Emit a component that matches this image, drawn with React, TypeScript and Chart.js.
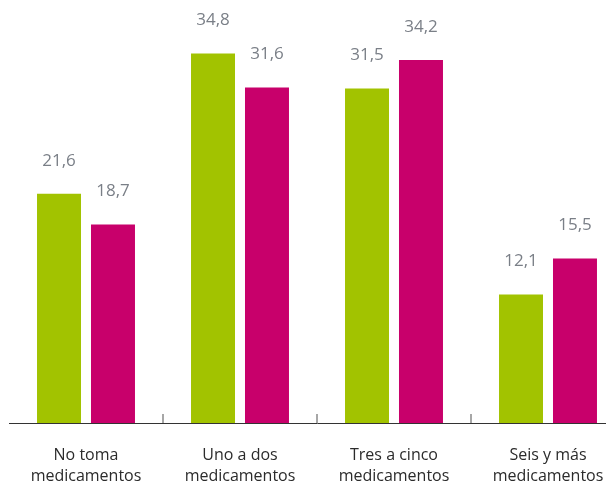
import React, { useEffect, useRef } from "react";
import { Chart, registerables } from "chart.js";

Chart.register(...registerables);

const categories: string[][] = [
  ["No toma", "medicamentos"],
  ["Uno a dos", "medicamentos"],
  ["Tres a cinco", "medicamentos"],
  ["Seis y más", "medicamentos"],
];
const seriesGreen: number[] = [21.6, 34.8, 31.5, 12.1];
const seriesMagenta: number[] = [18.7, 31.6, 34.2, 15.5];

const FONT = "'Open Sans', 'Noto Sans', sans-serif";

const valueLabels = {
  id: "valueLabels",
  afterDatasetsDraw(chart: any) {
    const ctx = chart.ctx;
    ctx.save();
    ctx.font = `17px ${FONT}`;
    ctx.fillStyle = "#7a7f87";
    ctx.textAlign = "center";
    ctx.textBaseline = "middle";
    chart.data.datasets.forEach((ds: any, di: number) => {
      const meta = chart.getDatasetMeta(di);
      meta.data.forEach((bar: any, i: number) => {
        const v = ds.data[i] as number;
        ctx.fillText(v.toFixed(1).replace(".", ","), bar.x, bar.y - 33);
      });
    });
    ctx.restore();
  },
};

const innerTicks = {
  id: "innerTicks",
  afterDraw(chart: any) {
    const ctx = chart.ctx;
    const xs = chart.scales.x;
    const bottom = chart.chartArea.bottom;
    ctx.save();
    ctx.strokeStyle = "#8a8a8a";
    ctx.lineWidth = 1.5;
    for (let i = 1; i < categories.length; i++) {
      const x = Math.round(xs.getPixelForValue(i - 0.5));
      ctx.beginPath();
      ctx.moveTo(x, bottom - 9);
      ctx.lineTo(x, bottom);
      ctx.stroke();
    }
    ctx.restore();
  },
};

export default function App() {
  const ref = useRef<HTMLCanvasElement | null>(null);
  useEffect(() => {
    document.documentElement.style.overflow = "hidden";
    document.body.style.overflow = "hidden";
    if (!ref.current) return;
    const chart = new Chart(ref.current, {
      type: "bar",
      data: {
        labels: categories,
        datasets: [
          {
            data: seriesGreen,
            backgroundColor: "#a2c300",
            categoryPercentage: 0.701,
            barPercentage: 0.815,
          },
          {
            data: seriesMagenta,
            backgroundColor: "#c8006b",
            categoryPercentage: 0.701,
            barPercentage: 0.815,
          },
        ],
      },
      options: {
        responsive: false,
        animation: false,
        layout: { padding: { left: 1, right: 3, top: 1, bottom: 0 } },
        plugins: {
          legend: { display: false },
          tooltip: { enabled: false },
        },
        scales: {
          x: {
            grid: { display: false, drawTicks: false, tickLength: 0 },
            border: { display: true, color: "#333333", width: 1 },
            ticks: {
              padding: 22,
              color: "#2b2b2b",
              font: { family: FONT, size: 16, lineHeight: 1.3125 },
              maxRotation: 0,
              minRotation: 0,
              autoSkip: false,
            },
            afterFit: (scale: any) => {
              scale.height = 63;
            },
          },
          y: {
            display: false,
            min: 0,
            max: 39,
          },
        },
      },
      plugins: [valueLabels, innerTicks],
    });
    return () => chart.destroy();
  }, []);
  return (
    <div style={{ width: 606, height: 474, overflow: "hidden", position: "relative" }}>
      <canvas ref={ref} width={620} height={478} style={{ display: "block", width: 620, height: 478 }} />
    </div>
  );
}
